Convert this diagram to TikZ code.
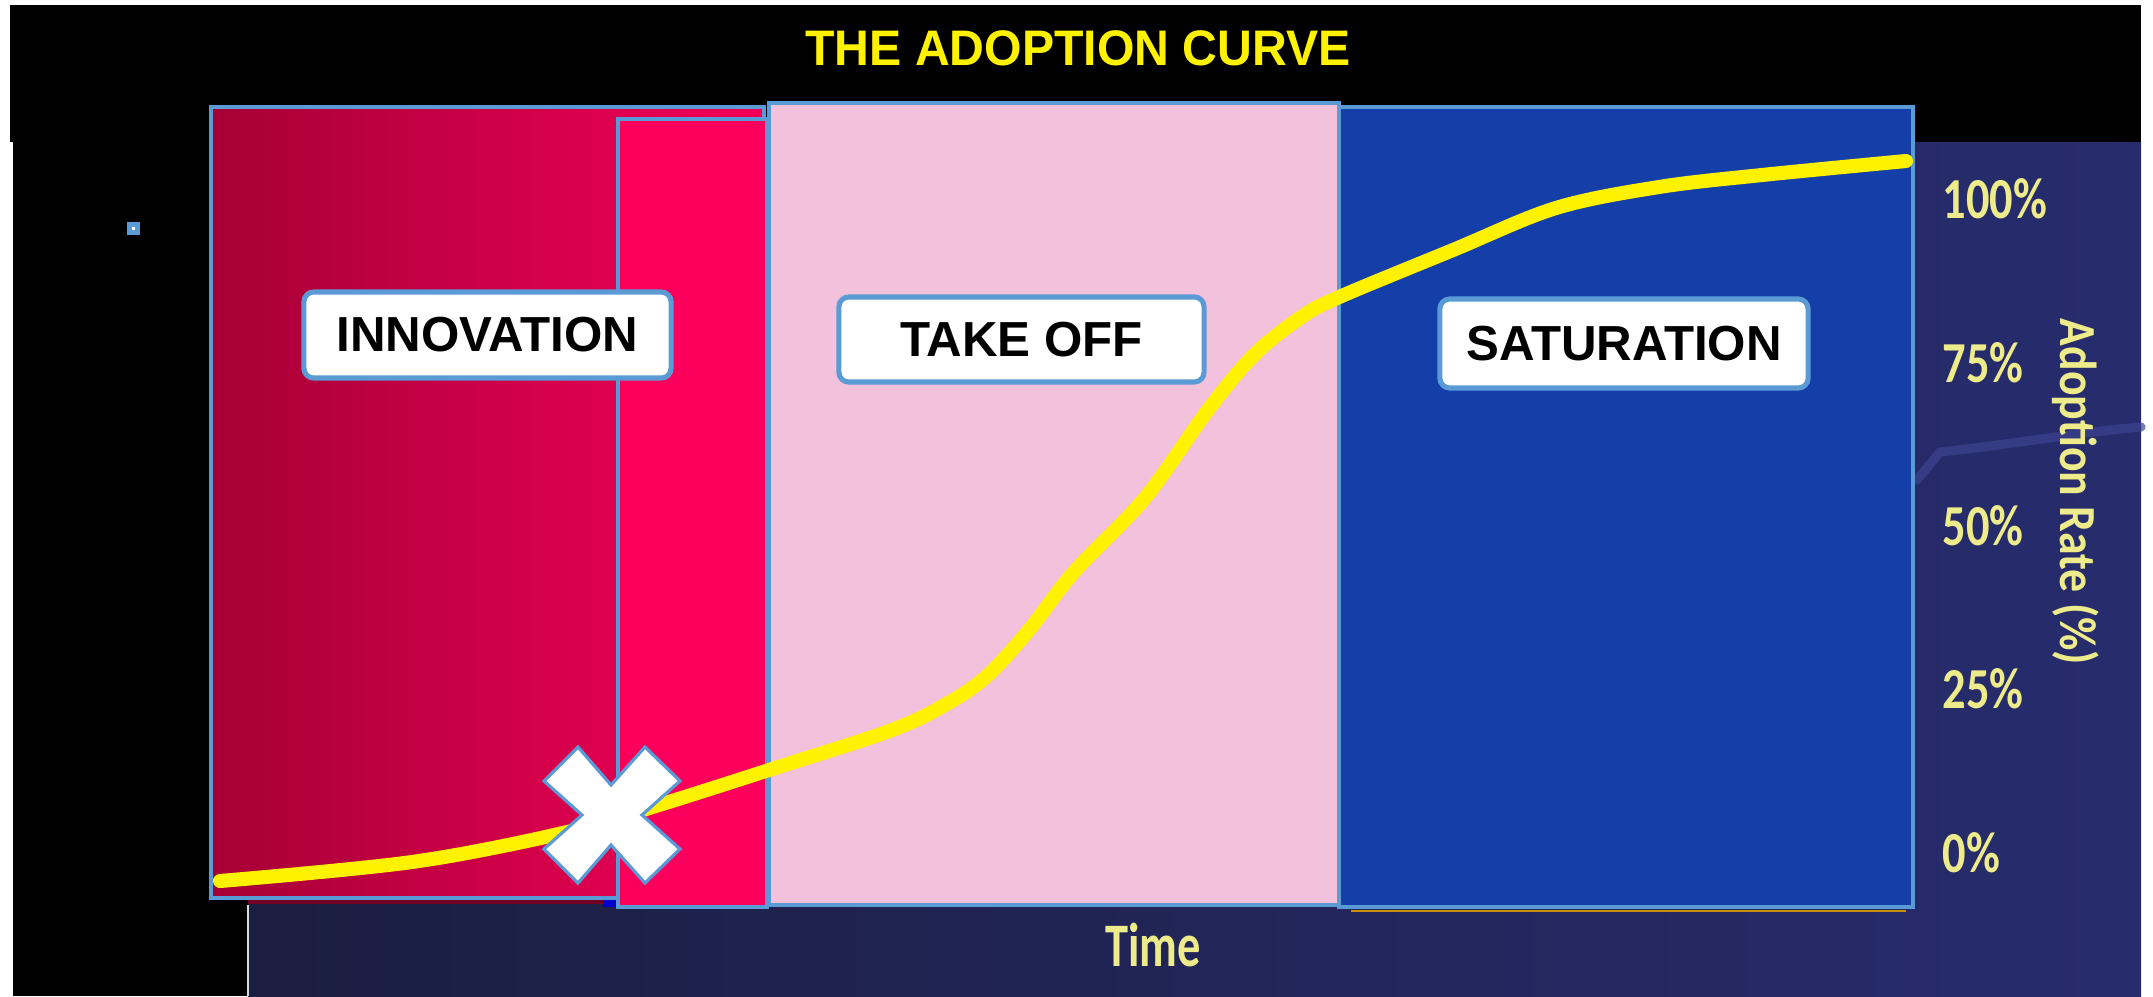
\documentclass[tikz,border=0pt]{standalone}
\usepackage{fontspec}
\setmainfont{Liberation Sans}
\newfontfamily\axisfont{Carlito}
\definecolor{edgeblue}{HTML}{5B9BD5}
\definecolor{navyA}{HTML}{1B1E40}
\definecolor{navyB}{HTML}{272C6E}
\definecolor{crimsonA}{HTML}{A60036}
\definecolor{crimsonB}{HTML}{F30058}
\definecolor{hotpink}{HTML}{FA005C}
\definecolor{softpink}{HTML}{F2C1DC}
\definecolor{royal}{HTML}{153FA8}
\definecolor{paleyellow}{HTML}{EEEC8A}
\definecolor{gold}{HTML}{C8900A}
\definecolor{swoosh}{HTML}{3C4490}
\tikzset{
  phase/.style={draw=edgeblue, line width=1.1pt},
  tag/.style={draw=edgeblue, fill=white, line width=1.45pt, rounded corners=2.8pt,
    inner sep=0pt, font=\bfseries\fontsize{14}{16}\selectfont, text=black},
  pct/.style={anchor=west, inner sep=0pt, text=paleyellow, font=\axisfont\bfseries\fontsize{16.5}{18}\selectfont},
}
\begin{document}
\begin{tikzpicture}[x=0.01cm,y=-0.01cm]
\useasboundingbox (0,0) rectangle (2153,996);
\fill[white] (0,0) rectangle (2153,996);
% chart background
\shade[left color=navyA,right color=navyB] (248,142) rectangle (2141,996);
\draw[swoosh, line width=2.6pt, opacity=0.7, line cap=round] (1917,480) -- (1940,452) .. controls (2000,446) and (2080,432) .. (2141,427);
\fill[black] (10,5) rectangle (2141,142);
\fill[black] (13,142) rectangle (248,996);
\draw[white!85!black, line width=0.3pt] (248,905) -- (248,996);
% title
\node[text=yellow, font=\bfseries\fontsize{14.2}{17}\selectfont, inner sep=0pt] (title) at (1078,48) {\scalebox{0.965}[1]{THE ADOPTION CURVE}};
% phases
\fill[crimsonA!70!black] (248,898) rectangle (603,904);
\fill[blue!80!black] (603,898) rectangle (618,907);
\draw[gold, line width=0.6pt] (1351,911) -- (1906,911);
\shade[left color=crimsonA, right color=crimsonB] (211,107) rectangle (764,898);
\draw[phase] (211,107) rectangle (764,898);
\fill[hotpink] (618,119) rectangle (767,907);
\draw[phase] (618,119) rectangle (767,907);
\fill[softpink] (769,103) rectangle (1339,905);
\draw[phase] (769,103) rectangle (1339,905);
\fill[royal] (1339,107) rectangle (1913,907);
\draw[phase] (1339,107) rectangle (1913,907);
% small marker
\fill[edgeblue] (127,222) rectangle (140,235);
\fill[white] (132,227) rectangle (135,230);
% labels
\node[tag, minimum width=3.67cm, minimum height=0.86cm] (innov) at (487.5,335) {INNOVATION};
\node[tag, minimum width=3.65cm, minimum height=0.85cm] (takeoff) at (1021.5,339.5) {TAKE OFF};
\node[tag, minimum width=3.68cm, minimum height=0.89cm] (satur) at (1624,343.5) {SATURATION};
% curve
\draw[yellow, line width=4pt, line cap=round, line join=round] plot[smooth, tension=0.55] coordinates {
(220,881) (412,862) (563,833) (659,805) (769,770) (892,730) (950,702) (988,675) (1029,630) (1074,572) (1145,498) (1208,410) (1254,355) (1300,318) (1337,298) (1453,250) (1556,208) (1659,187) (1762,175) (1906,161)};
% cross
\draw[edgeblue, fill=white, line width=0.9pt, line join=miter]
 (578,747) -- (611,785) -- (645,747) -- (680,781) -- (642,815) -- (680,849) -- (645,883) -- (611,845) -- (578,883) -- (544,849) -- (582,815) -- (544,781) -- cycle;
% axis labels
\node[pct] (p100) at (1942,199) {\scalebox{0.8}[1]{100\%}};
\node[pct] (p75) at (1942,363) {\scalebox{0.8}[1]{75\%}};
\node[pct] (p50) at (1942,526) {\scalebox{0.8}[1]{50\%}};
\node[pct] (p25) at (1942,689) {\scalebox{0.8}[1]{25\%}};
\node[pct] (p0) at (1942,853) {\scalebox{0.8}[1]{0\%}};
\node[inner sep=0pt, text=paleyellow, font=\axisfont\bfseries\fontsize{17.6}{19}\selectfont] (time) at (1153,945) {\scalebox{0.75}[1]{Time}};
\node[inner sep=0pt, text=paleyellow, rotate=-90, font=\axisfont\bfseries\fontsize{14.8}{17}\selectfont] (rate) at (2076,492) {\scalebox{0.88}[1]{Adoption Rate (\%)}};
\end{tikzpicture}
\end{document}
